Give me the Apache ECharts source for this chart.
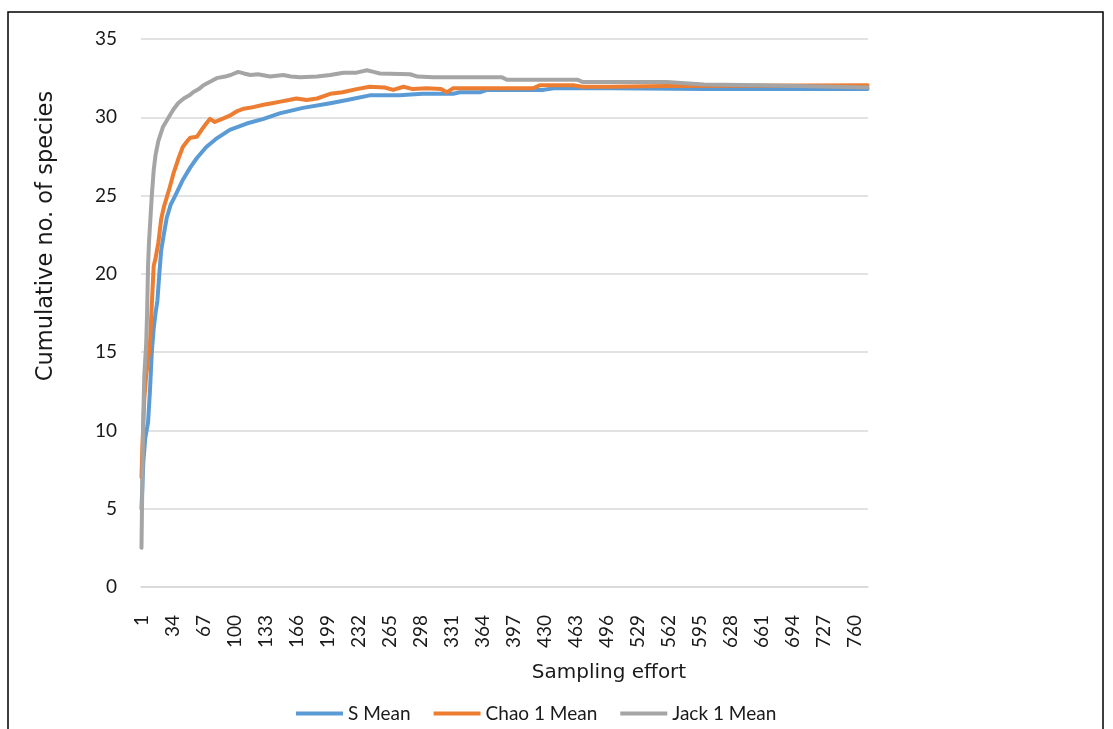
<!DOCTYPE html>
<html>
<head>
<meta charset="utf-8">
<script src="https://cdn.jsdelivr.net/npm/echarts@6/dist/echarts.min.js"></script>
<style>
  html, body { margin: 0; padding: 0; background: #fff; }
  #chart { width: 1113px; height: 729px; }
</style>
</head>
<body>
<div id="chart"></div>
<script>
// ---- data ----
const sampleCount = 774;              // number of sampling units on the x axis
const yTicks = [0, 5, 10, 15, 20, 25, 30, 35];

// S Mean: sample number -> value
const sMeanSamples = [1, 2, 3, 5, 8, 10, 12, 14, 16, 18, 20, 22, 25, 28, 32, 37, 45, 53, 60, 70, 80, 95, 113, 131, 148, 173, 202, 220, 244, 276, 300, 333, 340, 362, 369, 429, 440, 500, 600, 774];
const sMeanValues  = [5.0, 6.5, 8.0, 9.5, 10.5, 12.5, 15.0, 16.5, 17.5, 18.3, 20.0, 21.5, 22.6, 23.6, 24.4, 25.0, 26.0, 26.8, 27.4, 28.1, 28.6, 29.2, 29.6, 29.9, 30.25, 30.6, 30.9, 31.1, 31.4, 31.4, 31.5, 31.5, 31.6, 31.6, 31.75, 31.75, 31.85, 31.85, 31.8, 31.8];

// Chao 1 Mean
const chaoSamples = [1, 2, 3, 4, 6, 8, 10, 12, 14, 16, 19, 22, 25, 28, 31, 35, 40, 45, 50, 53, 60, 65, 70, 74, 79, 87, 95, 103, 110, 120, 131, 140, 149, 158, 166, 177, 188, 202, 215, 230, 244, 260, 269, 280, 290, 305, 320, 326, 333, 418, 425, 461, 470, 500, 560, 774];
const chaoValues  = [7.0, 9.0, 10.5, 12.0, 13.5, 14.5, 15.5, 18.0, 20.5, 21.0, 22.0, 23.5, 24.3, 24.9, 25.5, 26.4, 27.3, 28.1, 28.5, 28.7, 28.75, 29.2, 29.6, 29.9, 29.7, 29.9, 30.1, 30.4, 30.55, 30.65, 30.8, 30.9, 31.0, 31.1, 31.2, 31.1, 31.2, 31.5, 31.6, 31.8, 31.95, 31.9, 31.75, 31.95, 31.8, 31.85, 31.8, 31.6, 31.85, 31.85, 32.05, 32.05, 31.95, 31.95, 32.0, 32.05];

// Jack 1 Mean
const jackSamples = [1, 2, 3, 4, 5, 6, 7, 8, 9, 10, 11, 12, 14, 16, 19, 24, 30, 35, 40, 46, 52, 56, 62, 67, 75, 81, 90, 96, 104, 110, 117, 125, 138, 152, 160, 170, 188, 202, 216, 230, 241, 248, 255, 287, 295, 312, 385, 390, 465, 471, 560, 600, 660, 700, 774];
const jackValues  = [2.5, 7.0, 11.0, 13.5, 14.5, 15.5, 17.5, 20.5, 22.0, 23.0, 24.0, 25.0, 26.6, 27.6, 28.5, 29.4, 30.0, 30.5, 30.9, 31.2, 31.4, 31.6, 31.8, 32.05, 32.3, 32.5, 32.6, 32.7, 32.9, 32.8, 32.7, 32.75, 32.6, 32.7, 32.6, 32.55, 32.6, 32.7, 32.85, 32.85, 33.0, 32.9, 32.8, 32.75, 32.6, 32.55, 32.55, 32.4, 32.4, 32.25, 32.25, 32.1, 32.05, 32.0, 31.9];

const seriesNames  = ['S Mean', 'Chao 1 Mean', 'Jack 1 Mean'];
const seriesColors = ['#5B9BD5', '#ED7D31', '#A5A5A5'];
const xTitle = 'Sampling effort';
const yTitle = 'Cumulative no. of species';

// ---- build options ----
const categories = [];
for (let i = 1; i <= sampleCount; i++) categories.push(String(i));

function pairs(samples, values) {
  return samples.map((s, i) => [s - 1, values[i]]);
}
const seriesData = [
  pairs(sMeanSamples, sMeanValues),
  pairs(chaoSamples, chaoValues),
  pairs(jackSamples, jackValues)
];

const FONT = 'Lato';
const TITLE_FONT = 'DejaVu Sans';
const TXT = '#1a1a1a';

const chart = echarts.init(document.getElementById('chart'), null, { renderer: 'canvas' });
chart.setOption({
  animation: false,
  backgroundColor: '#fff',
  textStyle: { fontFamily: FONT, color: TXT },
  grid: { left: 141, right: 245, top: 39, bottom: 142, containLabel: false },
  legend: {
    data: seriesNames,
    left: 296,
    top: 704,
    padding: 0,
    icon: 'rect',
    itemWidth: 47,
    itemHeight: 4,
    itemGap: 23,
    textStyle: { fontFamily: FONT, fontSize: 19, color: TXT }
  },
  xAxis: {
    type: 'category',
    data: categories,
    boundaryGap: true,
    axisLine: { show: true, lineStyle: { color: '#D9D9D9', width: 1.5 } },
    axisTick: { show: false },
    axisLabel: {
      interval: 32,
      rotate: 90,
      margin: 28,
      fontFamily: FONT,
      fontSize: 19,
      color: TXT
    },
    splitLine: { show: false }
  },
  yAxis: {
    type: 'value',
    min: yTicks[0],
    max: yTicks[yTicks.length - 1],
    interval: yTicks[1] - yTicks[0],
    axisLine: { show: false },
    axisTick: { show: false },
    axisLabel: { margin: 24, fontFamily: FONT, fontSize: 19, color: TXT },
    splitLine: { lineStyle: { color: '#D9D9D9', width: 1.5 } }
  },
  graphic: [
    {
      type: 'rect',
      shape: { x: 8, y: 12, width: 1095, height: 740 },
      style: { fill: 'none', stroke: '#000', lineWidth: 1.5 },
      silent: true
    },
    {
      type: 'text',
      x: 609, y: 673,
      style: { text: xTitle, fontFamily: TITLE_FONT, fontSize: 20, fill: TXT, align: 'center', verticalAlign: 'middle' }
    },
    {
      type: 'text',
      x: 46, y: 236,
      rotation: Math.PI / 2,
      style: { text: yTitle, fontFamily: TITLE_FONT, fontSize: 22.5, fill: TXT, align: 'center', verticalAlign: 'middle' }
    }
  ],
  series: seriesNames.map((name, i) => ({
    name: name,
    type: 'line',
    data: seriesData[i],
    showSymbol: false,
    symbol: 'none',
    smooth: false,
    color: seriesColors[i],
    lineStyle: { color: seriesColors[i], width: 4, cap: 'round', join: 'round' },
    z: 2 + i
  }))
});
</script>
</body>
</html>
